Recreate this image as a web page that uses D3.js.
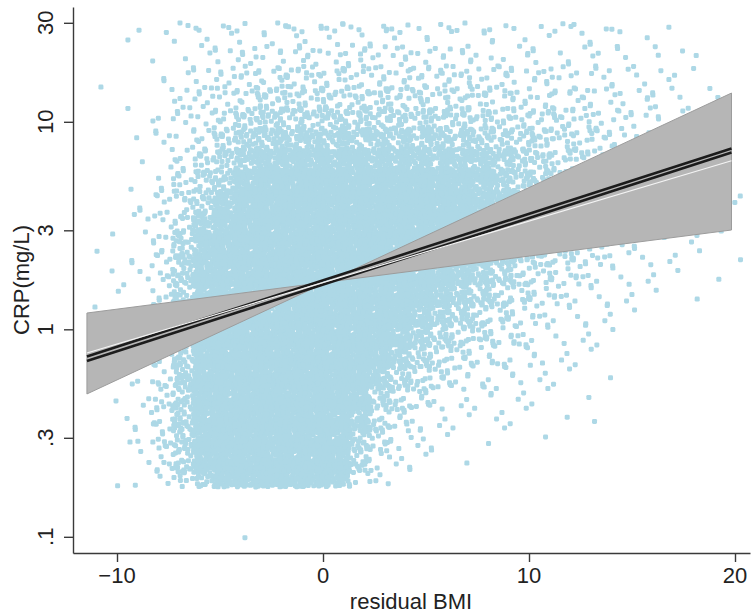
<!DOCTYPE html>
<html>
<head>
<meta charset="utf-8">
<script src="https://cdn.jsdelivr.net/npm/d3@7"></script>
<style>
  body { margin: 0; background: #fff; }
  svg { display: block; }
  text { font-family: "Liberation Sans", Arial, Helvetica, sans-serif; fill: #222; }
</style>
</head>
<body>
<svg id="chart" width="751" height="613"></svg>
<script>
// ---- axis ticks and titles ----
const xTicks = [-10, 0, 10, 20];
const xTickLabels = ["\u221210", "0", "10", "20"];
const yTicks = [0.1, 0.3, 1, 3, 10, 30];
const yTickLabels = [".1", ".3", "1", "3", "10", "30"];
const xTitle = "residual BMI";
const yTitle = "CRP(mg/L)";

// ---- participants, binned: residual BMI columns x log-spaced CRP rows ----
const bmiEdges = [-10, -9, -8, -7, -6, -5, -4, -3, -2, -1, 0, 1, 2, 3, 4, 5, 6, 7, 8, 9,
                  10, 11, 12, 13, 14, 15, 16, 17, 18, 19, 20];
const crpEdges = [0.174, 0.219, 0.275, 0.347, 0.437, 0.550, 0.692, 0.871, 1.096, 1.380,
                  1.738, 2.188, 2.754, 3.467, 4.365, 5.495, 6.918, 8.710, 10.96, 13.80,
                  17.38, 21.88, 27.54, 30];
// one array per BMI bin, counts from the lowest to the highest CRP row
const binCounts = [
  [0,0,0,2,1,0,0,0,0,1,2,1,0,1,0,0,0,0,0,0,0,0,0],
  [2,3,3,3,3,1,0,0,0,1,3,3,2,2,1,1,1,1,0,1,0,0,1],
  [6,10,11,11,10,8,8,8,8,9,9,8,7,6,5,4,3,3,2,2,1,1,1],
  [14,24,30,32,32,30,30,30,30,32,32,28,20,14,10,8,6,5,4,3,2,2,1],
  [45,75,82,85,85,85,85,85,85,85,80,62,45,32,22,15,11,8,6,5,3,2,1],
  [75,90,90,90,90,90,90,90,90,90,90,85,72,55,38,26,18,13,9,7,5,3,2],
  [85,90,90,90,90,90,90,90,90,90,90,90,90,82,66,46,30,20,13,8,5,3,1],
  [90,90,90,90,90,90,90,90,90,90,90,90,90,90,80,55,34,22,14,9,6,3,2],
  [90,90,90,90,90,90,90,90,90,90,90,90,90,90,85,58,36,23,15,9,6,3,2],
  [90,90,90,90,90,90,90,90,90,90,90,90,90,90,88,60,36,23,15,9,6,3,2],
  [70,90,90,90,90,90,90,90,90,90,90,90,90,90,88,60,36,23,15,9,6,3,2],
  [14,26,40,58,80,90,90,90,90,90,90,90,90,90,88,58,35,22,14,9,6,3,2],
  [4,9,15,22,34,52,75,90,90,90,90,90,90,90,85,56,34,22,14,9,6,3,2],
  [1,3,5,9,16,28,42,60,80,90,90,90,90,90,82,54,33,21,13,8,5,3,2],
  [0,2,3,5,10,17,26,38,55,75,88,90,90,90,80,52,32,20,13,8,5,3,1],
  [0,1,2,3,6,11,17,25,36,52,68,82,88,88,76,50,31,20,12,8,5,3,2],
  [0,1,1,2,3,7,11,17,26,38,52,66,80,84,70,46,30,19,11,8,5,3,1],
  [0,0,1,1,3,6,9,13,19,27,38,50,60,64,58,42,27,17,10,7,4,3,2],
  [0,0,1,2,2,4,7,10,14,20,28,36,44,48,44,36,24,16,10,6,4,2,1],
  [0,0,1,1,2,3,5,7,9,12,16,21,26,28,27,23,18,13,8,6,4,2,1],
  [0,0,1,1,1,2,3,4,6,8,11,14,18,21,21,19,16,12,8,5,3,2,1],
  [0,0,0,1,1,1,2,3,4,6,8,11,13,16,16,14,12,10,7,5,3,2,1],
  [0,0,1,0,1,1,1,2,3,4,6,8,10,12,12,11,10,8,6,4,3,2,1],
  [0,0,0,0,0,1,1,1,2,3,4,6,7,9,9,9,8,7,5,4,3,2,1],
  [0,0,0,0,0,0,0,1,1,2,3,4,5,6,7,7,6,5,4,3,2,1,1],
  [0,0,0,0,0,0,0,0,1,1,2,3,4,4,5,5,5,4,3,3,2,1,0],
  [0,0,0,0,0,0,0,0,0,1,1,2,2,3,3,4,4,3,3,2,1,1,1],
  [0,0,0,0,0,0,0,0,0,1,1,1,2,2,2,3,3,3,2,2,1,1,0],
  [0,0,0,0,0,0,0,0,0,0,1,1,1,1,2,2,2,2,1,1,0,0,0],
  [0,0,0,0,0,0,0,0,0,0,0,1,1,1,2,1,1,1,0,1,0,0,0]
];
// isolated participants far from the bulk
const isolatedBMI = [-11.07, -10.97, -10.24, -10.78, -9.47, -9.47, -9.32, -9.97, -3.79, -9.37];
const isolatedCRP = [1.28, 2.38, 1.91, 14.7, 24.8, 11.6, 4.73, 0.176, 0.099, 0.286];

// ---- fitted lines and confidence band at the ends of the BMI range ----
const fitBMI = [-11.46, 19.83];
const fitUpper = [0.740, 7.435];
const fitLower = [0.7035, 7.112];
const fitAlt = [0.769, 6.494];
const bandSteep = [0.488, 13.76];
const bandShallow = [1.198, 3.01];

// ---- layout ----
const svg = d3.select("#chart");
const x = d3.scaleLinear().domain([-12.136, 20.728]).range([73, 750]);
const y = d3.scaleLog().domain([0.08356, 35.75]).range([553, 7]);

// Halton points, shifted per bin, spread each bin's points evenly over the bin
function halton(i, b) {
  let f = 1, r = 0;
  while (i > 0) { f /= b; r += f * (i % b); i = Math.floor(i / b); }
  return r;
}
const frac = t => t - Math.floor(t);

// points may overhang their bin by this fraction so neighbouring bins blend
const overhang = 0.3;
const nRows = crpEdges.length - 1;
const pts = [];
binCounts.forEach((col, ci) => {
  col.forEach((n, ri) => {
    const x0 = bmiEdges[ci], x1 = bmiEdges[ci + 1];
    const l0 = Math.log10(crpEdges[ri]), l1 = Math.log10(crpEdges[ri + 1]);
    const lo = ri === 0 ? 0 : -overhang;
    const hi = ri === nRows - 1 ? 1 : 1 + overhang;
    const su = frac(ci * 0.6180339887 + ri * 0.4142135624);
    const sv = frac(ci * 0.7320508076 + ri * 0.2360679775);
    for (let k = 1; k <= n; k++) {
      const u = -overhang + frac(halton(k, 2) + su) * (1 + 2 * overhang);
      const v = lo + frac(halton(k, 3) + sv) * (hi - lo);
      pts.push([x0 + u * (x1 - x0), Math.pow(10, l0 + v * (l1 - l0))]);
    }
  });
});
isolatedBMI.forEach((b, i) => pts.push([b, isolatedCRP[i]]));

const ms = 5;
svg.append("g")
  .selectAll("rect")
  .data(pts)
  .join("rect")
  .attr("x", d => x(d[0]) - ms / 2)
  .attr("y", d => y(d[1]) - ms / 2)
  .attr("width", ms)
  .attr("height", ms)
  .attr("rx", 1.4)
  .attr("fill", "#add8e6");

// confidence band: region between the two bounding lines (bow-tie)
const bandPts = [
  [fitBMI[0], bandShallow[0]], [fitBMI[1], bandShallow[1]],
  [fitBMI[1], bandSteep[1]], [fitBMI[0], bandSteep[0]]
];
svg.append("path")
  .attr("d", d3.line().x(d => x(d[0])).y(d => y(d[1]))(bandPts) + "Z")
  .attr("fill", "#b6b6b6")
  .attr("stroke", "#9c9c9c")
  .attr("stroke-width", 1)
  .attr("stroke-linejoin", "round");

const lineGen = d3.line().x(d => x(d[0])).y(d => y(d[1]));
const fitPath = vals => lineGen(fitBMI.map((b, i) => [b, vals[i]]));
svg.append("path").attr("d", fitPath(fitUpper)).attr("stroke", "#1c1c1c").attr("stroke-width", 2.6).attr("fill", "none");
svg.append("path").attr("d", fitPath(fitLower)).attr("stroke", "#1c1c1c").attr("stroke-width", 2.6).attr("fill", "none");
svg.append("path").attr("d", fitPath(fitAlt)).attr("stroke", "#f4f4f4").attr("stroke-width", 1.2).attr("fill", "none");

// ---- axes ----
const axisColor = "#3a3a3a";
const gx = svg.append("g").attr("transform", "translate(0,553)")
  .call(d3.axisBottom(x).tickValues(xTicks).tickSize(9).tickSizeOuter(0).tickFormat(""));
const gy = svg.append("g").attr("transform", "translate(73,0)")
  .call(d3.axisLeft(y).tickValues(yTicks).tickSize(9).tickSizeOuter(0).tickFormat(""));
[gx, gy].forEach(g => {
  g.select(".domain").attr("stroke", axisColor).attr("stroke-width", 1.4);
  g.selectAll(".tick line").attr("stroke", axisColor).attr("stroke-width", 1.4);
});

svg.append("g").selectAll("text")
  .data(xTicks)
  .join("text")
  .attr("x", d => x(d))
  .attr("y", 583)
  .attr("text-anchor", "middle")
  .attr("font-size", 22)
  .text((d, i) => xTickLabels[i]);

svg.append("g").selectAll("text")
  .data(yTicks)
  .join("text")
  .attr("transform", d => `translate(53,${y(d)}) rotate(-90)`)
  .attr("text-anchor", "middle")
  .attr("font-size", 22)
  .text((d, i) => yTickLabels[i]);

svg.append("text")
  .attr("x", 411).attr("y", 609)
  .attr("text-anchor", "middle")
  .attr("font-size", 22)
  .text(xTitle);

svg.append("text")
  .attr("transform", "translate(28.5,280) rotate(-90)")
  .attr("text-anchor", "middle")
  .attr("font-size", 22)
  .text(yTitle);
</script>
</body>
</html>
